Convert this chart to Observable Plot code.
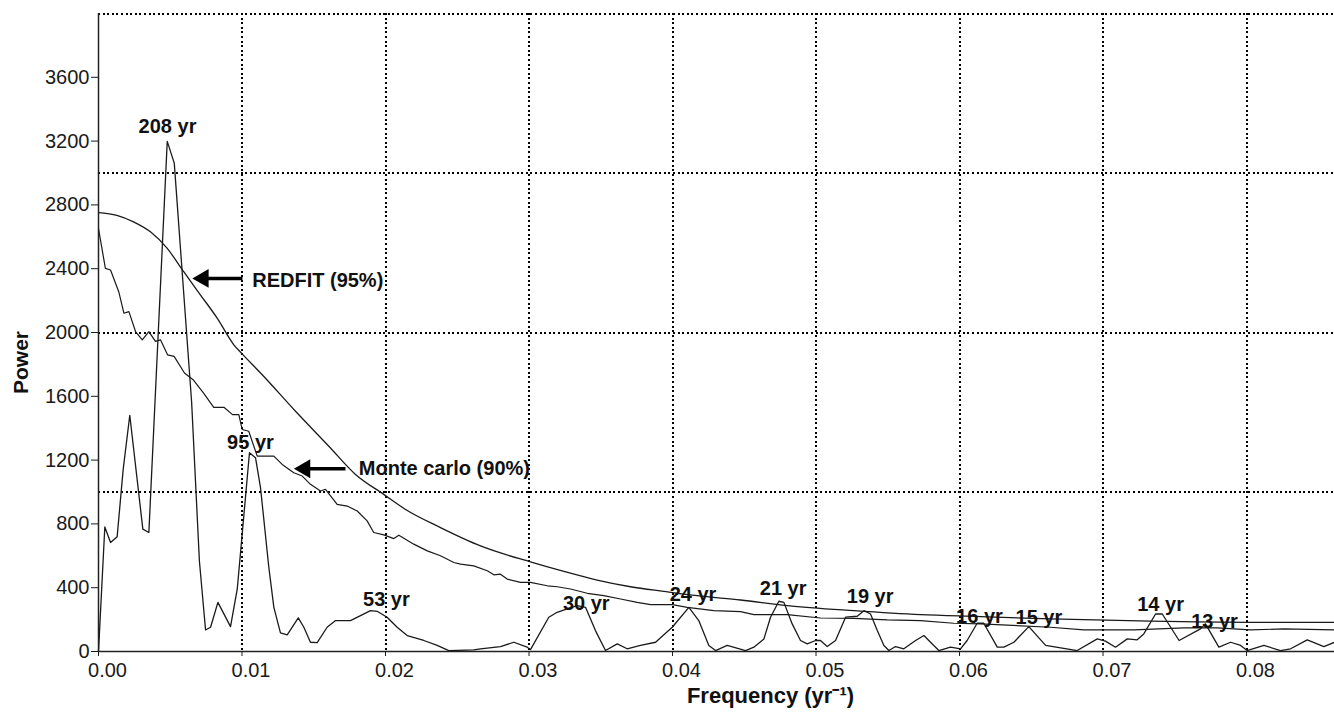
<!DOCTYPE html>
<html>
<head>
<meta charset="utf-8">
<script src="https://cdn.jsdelivr.net/npm/d3@7"></script>
<script src="https://cdn.jsdelivr.net/npm/@observablehq/plot@0.6"></script>
<style>
  html, body { margin: 0; padding: 0; background: #fff; }
  #chart svg { display: block; }
</style>
</head>
<body>
<div id="chart"></div>
<script>
// ---- Data ----
const specFreq = [0, 0.00044, 0.00084, 0.0013, 0.00172, 0.00218, 0.00309, 0.00351, 0.00479, 0.00528,
  0.00649, 0.00703, 0.00746, 0.00781, 0.00832, 0.0092, 0.00967, 0.01052, 0.01094, 0.01129,
  0.01187, 0.01222, 0.01268, 0.01315, 0.01392, 0.01431, 0.01477, 0.01524, 0.01593, 0.01652,
  0.01756, 0.01826, 0.01895, 0.01942, 0.02011, 0.02081, 0.02151, 0.02267, 0.0236, 0.02441,
  0.02615, 0.02662, 0.02801, 0.02894, 0.02987, 0.0301, 0.03138, 0.03196, 0.03266, 0.03336,
  0.03394, 0.03463, 0.03533, 0.03615, 0.03684, 0.03777, 0.03882, 0.03998, 0.04114, 0.04183,
  0.04253, 0.043, 0.04381, 0.04509, 0.04567, 0.04637, 0.04683, 0.04741, 0.04776, 0.04834,
  0.04892, 0.04939, 0.04997, 0.05031, 0.05078, 0.05136, 0.05206, 0.05287, 0.05334, 0.0538,
  0.05427, 0.05473, 0.05508, 0.05554, 0.05612, 0.05694, 0.05752, 0.05798, 0.05856, 0.05937,
  0.06007, 0.06053, 0.06123, 0.06169, 0.06263, 0.06309, 0.06379, 0.06483, 0.066, 0.0682,
  0.0696, 0.07017, 0.07087, 0.07169, 0.07238, 0.07284, 0.07366, 0.07413, 0.0753, 0.07679,
  0.07714, 0.07807, 0.07889, 0.07959, 0.08004, 0.08121, 0.08237, 0.08307, 0.08423, 0.08539, 0.08613];
const specPower = [0, 781, 683, 720, 1142, 1481, 767, 746, 3198, 3062,
  1563, 569, 135, 152, 308, 156, 392, 1246, 1215, 1027,
  527, 277, 117, 104, 211, 152, 58, 56, 152, 194,
  194, 225, 256, 252, 215, 152, 100, 69, 38, 6,
  10, 17, 31, 58, 27, 12, 215, 246, 267, 288,
  277, 131, 6, 48, 17, 38, 58, 152, 277, 194,
  38, 6, 38, 6, 27, 79, 215, 315, 308, 173,
  69, 48, 69, 69, 31, 69, 215, 221, 256, 235,
  131, 38, 6, 31, 17, 69, 100, 58, 6, 27,
  17, 69, 177, 177, 27, 27, 58, 156, 38, 6,
  79, 65, 27, 79, 73, 110, 235, 235, 69, 142,
  173, 27, 58, 38, 6, 38, 6, 17, 73, 31, 58];

const mcFreq = [0, 0.00048, 0.00084, 0.00141, 0.00177, 0.00212, 0.00258, 0.00305, 0.00351, 0.00397,
  0.00432, 0.00481, 0.00527, 0.00599, 0.00659, 0.00731, 0.00803, 0.00874, 0.00934, 0.00978,
  0.01001, 0.01047, 0.01106, 0.01222, 0.0128, 0.01361, 0.0142, 0.01477, 0.01547, 0.01582,
  0.01663, 0.01733, 0.01803, 0.01872, 0.01918, 0.01988, 0.02058, 0.02093, 0.02197, 0.02291,
  0.02383, 0.02476, 0.02523, 0.02615, 0.02709, 0.02755, 0.02801, 0.02848, 0.02941, 0.0301,
  0.03127, 0.03196, 0.03289, 0.03406, 0.03521, 0.03638, 0.03754, 0.03847, 0.03998, 0.04103,
  0.04288, 0.04474, 0.04567, 0.04799, 0.05031, 0.05264, 0.05496, 0.05728, 0.05961, 0.06146,
  0.06634, 0.06867, 0.07215, 0.07563, 0.07796, 0.08028, 0.0826, 0.08613];
const mcPower = [2652, 2402, 2392, 2256, 2121, 2131, 2006, 1954, 2006, 1944,
  1954, 1860, 1850, 1746, 1704, 1621, 1531, 1531, 1485, 1485,
  1392, 1381, 1225, 1225, 1173, 1121, 1100, 1048, 1006, 1017,
  922, 912, 881, 819, 746, 731, 708, 729, 673, 631,
  600, 558, 548, 537, 506, 481, 485, 454, 433, 433,
  412, 406, 392, 365, 350, 329, 308, 294, 294, 277,
  256, 250, 231, 231, 210, 208, 198, 194, 177, 173,
  152, 135, 135, 148, 148, 135, 142, 135];

const redfitFreq = [0, 0.00128, 0.00244, 0.00362, 0.00479, 0.00594, 0.00711, 0.00827, 0.00943, 0.01001,
  0.01141, 0.01373, 0.01605, 0.01791, 0.01988, 0.02137, 0.02383, 0.02662, 0.0301, 0.03243,
  0.03475, 0.03707, 0.0394, 0.04172, 0.04474, 0.04799, 0.05264, 0.05728, 0.06146, 0.06634,
  0.07331, 0.08028, 0.08613];
const redfitPower = [2752, 2735, 2694, 2631, 2527, 2381, 2235, 2090, 1923, 1866,
  1735, 1506, 1287, 1110, 985, 892, 777, 662, 562, 502,
  448, 406, 377, 350, 323, 288, 256, 231, 219, 204,
  190, 183, 183];

const peakLabels = ["208 yr", "95 yr", "53 yr", "30 yr", "24 yr", "21 yr", "19 yr", "16 yr", "15 yr", "14 yr", "13 yr"];
const peakLabelFreq = [0.00481, 0.01059, 0.02006, 0.03399, 0.04143, 0.04771, 0.05377, 0.06139, 0.06553, 0.07401, 0.07777];
const peakLabelPower = [3294, 1308, 325, 300, 356, 397, 342, 220, 214, 291, 189];

const arrowLabels = ["REDFIT (95%)", "Monte carlo (90%)"];
const arrowTipFreq = [0.00653, 0.01361];
const arrowTailFreq = [0.01003, 0.01721];
const arrowPower = [2339, 1146];
const arrowLabelFreq = [0.01071, 0.01814];
const arrowLabelPower = [2326, 1147];

const xTicks = [0, 0.01, 0.02, 0.03, 0.04, 0.05, 0.06, 0.07, 0.08];
const yTicks = [0, 400, 800, 1200, 1600, 2000, 2400, 2800, 3200, 3600];
const gridY = [1000, 2000, 3000, 4000];
const gridX = [0.01, 0.02, 0.03, 0.04, 0.05, 0.06, 0.07, 0.08];
const yTitle = "Power";
const yTitleAt = 1812;   // power level the rotated title is centred on
const xTitle = "Frequency (yr\u207B\u00B9)";

// ---- Build tables ----
const spectrum = specFreq.map((f, i) => ({f, p: specPower[i]}));
const monteCarlo = mcFreq.map((f, i) => ({f, p: mcPower[i]}));
const redfit = redfitFreq.map((f, i) => ({f, p: redfitPower[i]}));
const peaks = peakLabels.map((t, i) => ({t, f: peakLabelFreq[i], p: peakLabelPower[i]}));
const arrows = arrowLabels.map((t, i) => ({t, tip: arrowTipFreq[i], tail: arrowTailFreq[i], p: arrowPower[i], lf: arrowLabelFreq[i], lp: arrowLabelPower[i]}));

const ink = "#1a1a1a";
const dots = {stroke: "#000", strokeWidth: 2, strokeDasharray: "2,2.6", shapeRendering: "crispEdges"};
const fmtX = d3.format(".2f");

const chart = Plot.plot({
  width: 1334,
  height: 716,
  marginLeft: 98,
  marginRight: 0,
  marginTop: 13,
  marginBottom: 65,
  style: {fontFamily: "'Liberation Sans', Arial, sans-serif", fontSize: "20px", color: "#1a1a1a", background: "#fff"},
  x: {domain: [0, 0.08613], axis: null},
  y: {domain: [0, 4000], axis: null},
  marks: [
    Plot.ruleY(gridY, {...dots}),
    Plot.ruleX(gridX, {...dots}),
    Plot.line(redfit, {x: "f", y: "p", stroke: ink, strokeWidth: 1.3, curve: "monotone-x"}),
    Plot.line(monteCarlo, {x: "f", y: "p", stroke: ink, strokeWidth: 1.2}),
    Plot.line(spectrum, {x: "f", y: "p", stroke: ink, strokeWidth: 1.3}),
    Plot.ruleX([0], {stroke: "#222", strokeWidth: 1.5}),
    Plot.ruleY([0], {stroke: "#222", strokeWidth: 1.5}),
    Plot.axisY({ticks: yTicks, tickSize: 7, tickPadding: 2, tickFormat: d3.format("d"), label: null, fontSize: 20}),
    Plot.axisX({ticks: xTicks, tickSize: 5, tickFormat: () => "", label: null}),
    Plot.text(xTicks, {x: d => d, text: d => fmtX(d), frameAnchor: "bottom", lineAnchor: "top", dy: 11, dx: 9, fontSize: 20, fill: "#1a1a1a"}),
    // arrows
    Plot.link(arrows, {x1: d => d.tip + 0.0008, x2: "tail", y1: "p", y2: "p", stroke: "#000", strokeWidth: 3.5}),
    Plot.dot(arrows, {x: "tip", y: "p", symbol: "triangle", r: 7, rotate: -90, dx: 11, fill: "#000", stroke: "none"}),
    Plot.text(arrows, {x: "lf", y: "lp", text: "t", textAnchor: "start", fontWeight: "bold", fontSize: 20, fill: "#111"}),
    // peak labels
    Plot.text(peaks, {x: "f", y: "p", text: "t", fontWeight: "bold", fontSize: 20, fill: "#111"}),
    // axis titles
    Plot.text([yTitleAt], {y: d => d, text: () => yTitle, frameAnchor: "left", textAnchor: "middle", dx: -77, rotate: -90, fontWeight: "bold", fontSize: 21, fill: "#111"}),
    Plot.text([xTitle], {frameAnchor: "bottom", dx: 54, dy: 51, fontWeight: "bold", fontSize: 22, fill: "#111"})
  ]
});
document.getElementById("chart").appendChild(chart);
</script>
</body>
</html>
